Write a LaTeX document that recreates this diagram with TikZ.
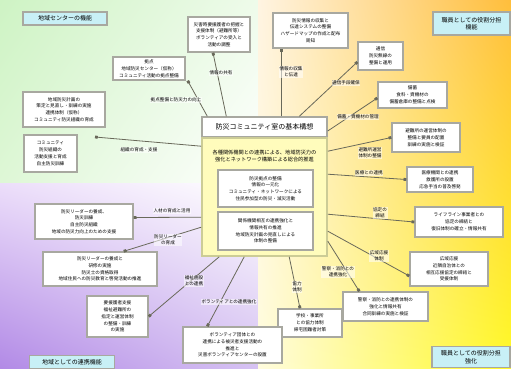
\documentclass[tikz,border=0pt]{standalone}
\usepackage{fontspec}
\newfontfamily\jp{Noto Sans CJK JP}
\usetikzlibrary{arrows.meta,shadings}
\definecolor{verdeA}{RGB}{206,243,196}
\definecolor{verdeB}{RGB}{222,247,214}
\definecolor{verdeC}{RGB}{238,251,234}
\definecolor{roxoA}{RGB}{236,222,250}
\definecolor{roxoB}{RGB}{178,138,230}
\definecolor{roxoC}{RGB}{214,194,242}
\definecolor{laranjaA}{RGB}{255,244,226}
\definecolor{laranjaB}{RGB}{255,190,60}
\definecolor{amareloA}{RGB}{255,252,222}
\definecolor{amareloB}{RGB}{255,250,40}
\definecolor{cinzaB}{RGB}{168,168,160}
\definecolor{cianoT}{RGB}{200,240,246}
\definecolor{linha}{RGB}{105,105,90}
\definecolor{fundoAm}{RGB}{255,252,188}
\definecolor{bordaAm}{RGB}{204,204,150}
\begin{document}
\begin{tikzpicture}[x=1pt,y=-1pt,
    caixa/.style={draw=cinzaB, line width=1.4pt, fill=white, align=center, inner sep=1pt,
        font=\jp\fontsize{4.6}{6.8}\selectfont},
    tema/.style={draw=cinzaB, line width=1.4pt, fill=cianoT, align=center, inner sep=1pt,
        font=\jp\fontsize{6}{7.5}\selectfont},
    rotulo/.style={fill=white, fill opacity=.55, text opacity=1, align=center, inner sep=.6pt,
        font=\jp\fontsize{4.6}{6}\selectfont},
    liga/.style={draw=linha, line width=.8pt, -{Square[length=2.8pt,width=2.8pt]}}]
    \useasboundingbox (0,0) rectangle (511,368);

    % Fundo em quatro cores
    \shade[upper left=verdeA, upper right=verdeC, lower left=verdeB, lower right=white] (0,0) rectangle (258,183);
    \shade[upper left=roxoA, upper right=white, lower left=roxoB, lower right=roxoC] (0,183) rectangle (258,368);
    \shade[upper left=laranjaA, upper right=laranjaB, lower left=amareloA, lower right=amareloB] (258,0) rectangle (511,368);

    % Temas dos cantos
    \node[tema, minimum width=84pt, minimum height=13pt] (temaVerde) at (65,18.5) {地域センターの機能};
    \node[tema, minimum width=77pt, minimum height=23pt] (temaLaranja) at (471.5,23.5) {職員としての役割分担\\機能};
    \node[tema, minimum width=85pt, minimum height=13pt] (temaRoxo) at (72,362) {地域としての連携機能};
    \node[tema, minimum width=78pt, minimum height=21pt] (temaAmarelo) at (471,357) {職員としての役割分担\\強化};

    % Caixa central
    \node[caixa, minimum width=125pt, minimum height=20pt, font=\jp\fontsize{7}{8}\selectfont] (titulo) at (264.5,127) {防災コミュニティ室の基本構想};
    \node[draw=bordaAm, line width=1.6pt, fill=fundoAm, minimum width=125pt, minimum height=118pt] (amarelo) at (264.5,197) {};
    \node[align=center, font=\jp\fontsize{5.2}{7}\selectfont] (cabeca) at (264.5,156.5) {各種関係機関との連携による、地域防災力の\\強化とネットワーク構築による総合的推進};
    \node[caixa, minimum width=95pt, minimum height=37pt] (dentroA) at (265.5,188.5) {防災拠点の整備\\情報の一元化\\コミュニティ・ネットワークによる\\住民参加型の防災・減災活動};
    \node[caixa, minimum width=95pt, minimum height=38pt] (dentroB) at (265.5,231) {関係機関相互の連携強化と\\情報共有の推進\\地域防災計画の見直しによる\\体制の整備};

    % Caixas de fora
    \node[caixa, minimum width=62pt, minimum height=35pt] (A) at (219,34.5) {災害時要援護者の把握と\\支援体制（避難所等）\\ボランティアの受入と\\活動の調整};
    \node[caixa, minimum width=72pt, minimum height=23pt] (B) at (149,68.5) {拠点\\地域防災センター（仮称）\\コミュニティ活動の拠点整備};
    \node[caixa, minimum width=82pt, minimum height=35pt] (C) at (64,109.5) {地域防災計画の\\策定と見直し・訓練の実施\\連携体制（仮称）\\コミュニティ防災組織の育成};
    \node[caixa, minimum width=53pt, minimum height=37pt] (D) at (50.5,153.5) {コミュニティ\\防災組織の\\活動支援と育成\\自主防災訓練};
    \node[caixa, minimum width=75pt, minimum height=35pt] (E) at (310.5,30.5) {防災情報の収集と\\伝達システムの整備\\ハザードマップの作成と配布\\周知};
    \node[caixa, minimum width=45pt, minimum height=28pt] (F) at (380.5,56) {通信\\防災無線の\\整備と運用};
    \node[caixa, minimum width=69pt, minimum height=26pt] (G) at (412.5,95) {備蓄\\食料・資機材の\\備蓄倉庫の整備と点検};
    \node[caixa, minimum width=68pt, minimum height=29pt] (H) at (426,137.5) {避難所の運営体制の\\整備と要員の配置\\訓練の実施と検証};
    \node[caixa, minimum width=66pt, minimum height=25pt] (I) at (440,179.5) {医療機関との連携\\救護所の設置\\応急手当の普及啓発};
    \node[caixa, minimum width=88pt, minimum height=30pt] (J) at (459,222) {ライフライン事業者との\\協定の締結と\\復旧体制の確立・情報共有};
    \node[caixa, minimum width=78pt, minimum height=34pt] (K) at (449,269) {広域応援\\近隣自治体との\\相互応援協定の締結と\\受援体制};
    \node[caixa, minimum width=85pt, minimum height=29pt] (L) at (385.5,306.5) {警察・消防との連携体制の\\強化と情報共有\\合同訓練の実施と検証};
    \node[caixa, minimum width=64pt, minimum height=28pt] (M) at (310,323) {学校・事業所\\との協力体制\\帰宅困難者対策};
    \node[caixa, minimum width=99pt, minimum height=36pt] (N) at (232.5,345) {ボランティア団体との\\連携による被災者支援活動の\\推進と\\災害ボランティアセンターの設置};
    \node[caixa, minimum width=61pt, minimum height=41pt] (O) at (117.5,316.5) {要援護者支援\\福祉避難所の\\指定と運営体制\\の整備・訓練\\の実施};
    \node[caixa, minimum width=114pt, minimum height=34pt] (P) at (100,269) {防災リーダーの養成と\\研修の実施\\防災士の資格取得\\地域住民への防災教育と啓発活動の推進};
    \node[caixa, minimum width=98pt, minimum height=35pt] (Q) at (84,221.5) {防災リーダーの養成、\\防災訓練\\自主防災組織\\地域の防災力向上のための支援};
    \coordinate (pontaC) at (95,137);

    % Ligacoes
    \draw[liga] ([xshift=25pt]titulo.north west) -- ([xshift=-6pt]A.south);
    \draw[liga] ([xshift=6pt]titulo.north west) -- ([xshift=2pt]B.south east);
    \draw[liga] ([yshift=-9pt]amarelo.north west) -- (pontaC);
    \draw[liga] ([xshift=80pt]titulo.north west) -- ([xshift=9pt]E.south west);
    \draw[liga] ([xshift=98pt]titulo.north west) -- ([yshift=-6pt]F.west);
    \draw[liga] ([yshift=-4pt]titulo.east) -- ([yshift=-3pt]G.west);
    \draw[liga] ([yshift=-14pt]amarelo.north east) -- (H.west);
    \draw[liga] ([yshift=-37pt]amarelo.north east) -- (I.west);
    \draw[liga] ([yshift=-77pt]amarelo.north east) -- (J.west);
    \draw[liga] ([yshift=-94pt]amarelo.north east) -- ([yshift=-7pt]K.west);
    \draw[liga] ([yshift=-104pt]amarelo.north east) -- ([xshift=17pt]L.north west);
    \draw[liga] ([xshift=88pt]amarelo.south west) -- ([xshift=-10pt]M.north);
    \draw[liga] ([xshift=43pt]amarelo.south west) -- ([xshift=25pt]N.north west);
    \draw[liga] ([xshift=18pt]amarelo.south west) -- (O.east);
    \draw[liga] ([yshift=-90pt]amarelo.north west) -- ([xshift=-34pt]P.north east);
    \draw[liga] ([yshift=-80pt]amarelo.north west) -- ([yshift=4pt]Q.east);

    % Rotulos das ligacoes
    \node[rotulo] (r1) at (221,73) {情報の共有};
    \node[rotulo] (r2) at (176,100) {拠点整備と防災力の向上};
    \node[rotulo] (r3) at (139,150) {組織の育成・支援};
    \node[rotulo] (r4) at (291,72) {情報の収集\\と伝達};
    \node[rotulo] (r5) at (346,83) {通信手段確保};
    \node[rotulo] (r6) at (358,117) {備蓄・資機材の管理};
    \node[rotulo] (r7) at (370,153) {避難所運営\\体制の整備};
    \node[rotulo] (r8) at (369,173) {医療との連携};
    \node[rotulo] (r9) at (380,213) {協定の\\締結};
    \node[rotulo] (r10) at (379,256) {広域応援\\体制};
    \node[rotulo] (r11) at (338,272) {警察・消防との\\連携強化};
    \node[rotulo] (r12) at (297,287) {協力\\体制};
    \node[rotulo] (r13) at (229,302) {ボランティアとの連携強化};
    \node[rotulo] (r14) at (194,281) {福祉施設\\との連携};
    \node[rotulo] (r15) at (168,240) {防災リーダー\\の育成};
    \node[rotulo] (r16) at (172,211) {人材の育成と活用};
\end{tikzpicture}
\end{document}
